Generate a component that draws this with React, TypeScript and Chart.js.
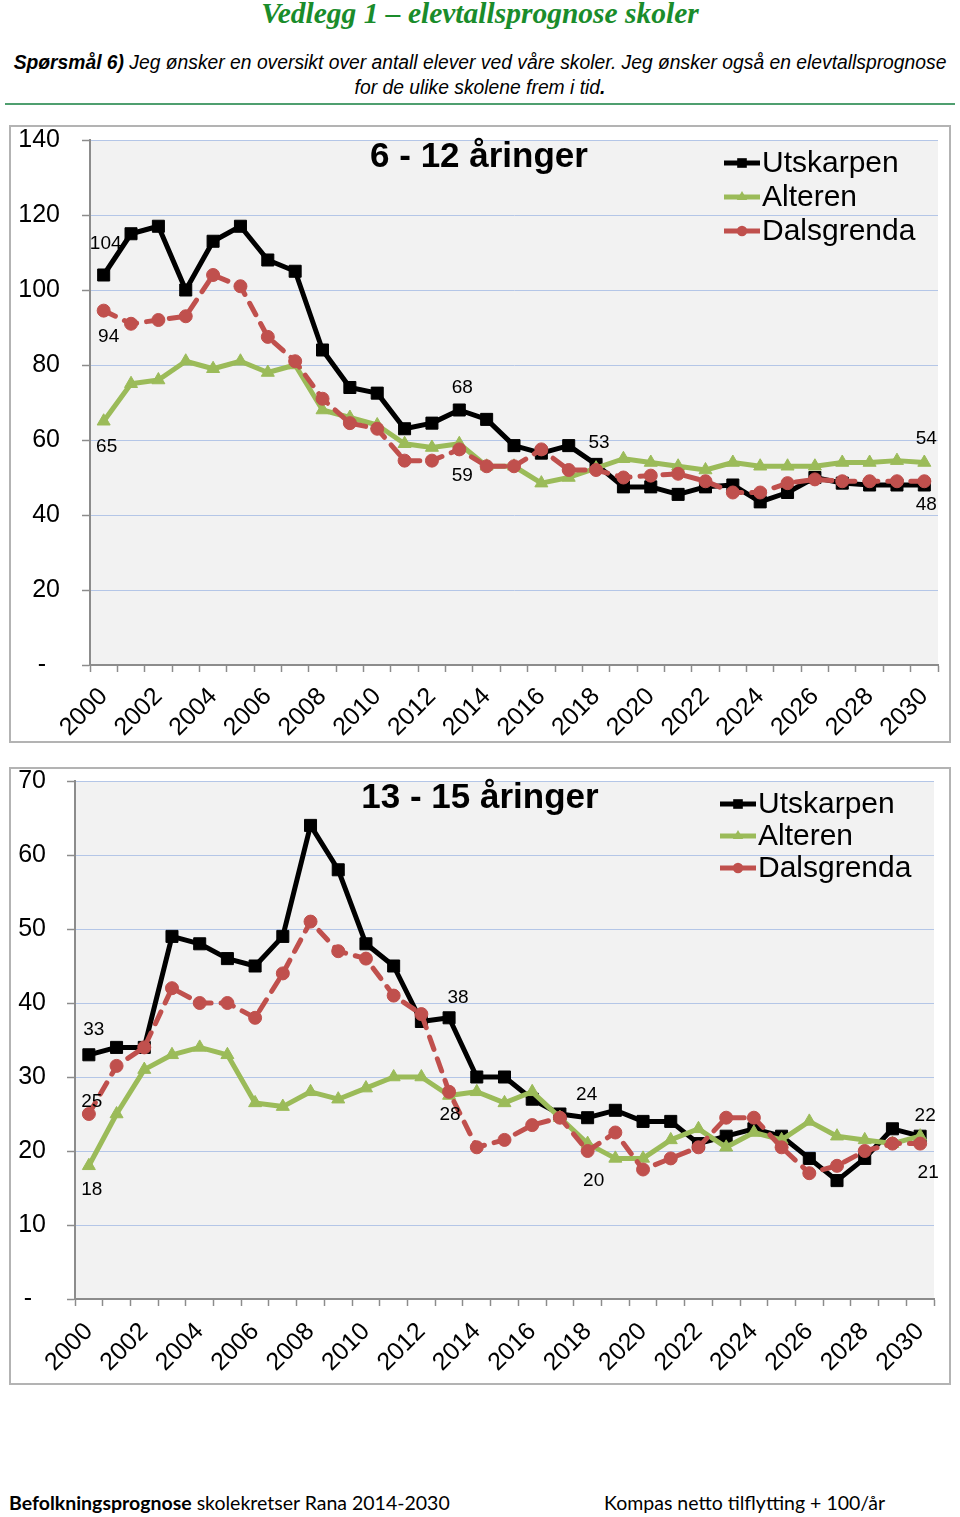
import React, { useEffect, useRef } from 'react';
import { Chart, registerables } from 'chart.js';

Chart.register(...registerables);

// ---------- data ----------
const YEARS = [
  '2000', '2001', '2002', '2003', '2004', '2005', '2006', '2007', '2008', '2009',
  '2010', '2011', '2012', '2013', '2014', '2015', '2016', '2017', '2018', '2019',
  '2020', '2021', '2022', '2023', '2024', '2025', '2026', '2027', '2028', '2029', '2030',
];

const SERIES_NAMES = ['Utskarpen', 'Alteren', 'Dalsgrenda'];

// 6 - 12 åringer
const UTSKARPEN_6_12 = [104, 115, 117, 100, 113, 117, 108, 105, 84, 74, 72.5, 63, 64.5, 68, 65.5, 58.5, 56.5, 58.5, 53.5, 47.5, 47.5, 45.5, 47.5, 48, 43.5, 46, 50, 48.5, 48, 48, 48];
const ALTEREN_6_12 = [65, 75, 76, 81, 79, 81, 78, 80, 68, 66, 64, 59, 58, 59, 53, 53, 48.5, 50, 52.5, 55, 54, 53, 52, 54, 53, 53, 53, 54, 54, 54.5, 54];
const DALSGRENDA_6_12 = [94.5, 91, 92, 93, 104, 101, 87.5, 81, 71, 64.5, 63, 54.5, 54.5, 57.5, 53, 53, 57.5, 52, 52, 50, 50.5, 51, 49, 46, 46, 48.5, 49.5, 49, 49, 49, 49];

// 13 - 15 åringer
const UTSKARPEN_13_15 = [33, 34, 34, 49, 48, 46, 45, 49, 64, 58, 48, 45, 37.5, 38, 30, 30, 27, 25, 24.5, 25.5, 24, 24, 21, 22, 23, 22, 19, 16, 19, 23, 22];
const ALTEREN_13_15 = [18, 25, 31, 33, 34, 33, 26.5, 26, 28, 27, 28.5, 30, 30, 27.5, 28, 26.5, 28, 24.5, 21, 19, 19, 21.5, 23, 20.5, 22.5, 21.5, 24, 22, 21.5, 21, 22];
const DALSGRENDA_13_15 = [25, 31.5, 34, 42, 40, 40, 38, 44, 51, 47, 46, 41, 38.5, 28, 20.5, 21.5, 23.5, 24.5, 20, 22.5, 17.5, 19, 20.5, 24.5, 24.5, 20.5, 17, 18, 20, 21, 21];

// data labels: [series index, year index, label text]
const LABELS_6_12: [number, number, string][] = [
  [0, 0, '104'], [2, 0, '94'], [1, 0, '65'], [0, 13, '68'], [1, 13, '59'],
  [0, 18, '53'], [1, 30, '54'], [0, 30, '48'],
];
const LABELS_13_15: [number, number, string][] = [
  [0, 0, '33'], [2, 0, '25'], [1, 0, '18'], [0, 13, '38'], [2, 13, '28'],
  [0, 18, '24'], [2, 18, '20'], [0, 30, '22'], [2, 30, '21'],
];

// ---------- styles ----------
const COLORS = ['#000000', '#9bbb59', '#c0504d'];
const POINT_STYLES = ['rect', 'triangle', 'circle'];
const POINT_RADII = [8.5, 7.5, 6.5];
const FONT = '"Liberation Sans", Arial, Helvetica, sans-serif';

// label offsets (pixels) for each data label, same order as above
const OFFSETS_6_12 = [[2, -31], [5, 26], [3, 26], [3, -22], [3, 32], [3, -22], [2, -24], [2, 20]];
const OFFSETS_13_15 = [[5, -25], [3, -12], [3, 24], [9, -20], [1, 23], [-1, -23], [6, 30], [5, -20], [8, 29]];

type Spec = {
  title: string;
  data: number[][];
  yMax: number;
  yStep: number;
  yWidth: number;
  xHeight: number;
  xPad: number;
  padTop: number;
  padRight: number;
  yPad: number;
  labels: [number, number, string][];
  offsets: number[][];
  titlePos: [number, number];
  legendX: number;
  legendY: number;
  legendGap: number;
};

function drawMarker(ctx: CanvasRenderingContext2D, style: string, x: number, y: number, r: number) {
  ctx.beginPath();
  if (style === 'rect') {
    const s = r * Math.SQRT1_2;
    ctx.rect(x - s, y - s, 2 * s, 2 * s);
  } else if (style === 'triangle') {
    let a = 0;
    ctx.moveTo(x + Math.sin(a) * r, y - Math.cos(a) * r);
    a += (2 * Math.PI) / 3;
    ctx.lineTo(x + Math.sin(a) * r, y - Math.cos(a) * r);
    a += (2 * Math.PI) / 3;
    ctx.lineTo(x + Math.sin(a) * r, y - Math.cos(a) * r);
    ctx.closePath();
  } else {
    ctx.arc(x, y, r, 0, Math.PI * 2);
  }
  ctx.fill();
}

function buildConfig(spec: Spec): any {
  const bgPlugin = {
    id: 'plotBg',
    beforeDraw(chart: any) {
      const { ctx, chartArea: a } = chart;
      ctx.save();
      ctx.fillStyle = '#f2f2f2';
      ctx.fillRect(a.left, a.top, a.right - a.left, a.bottom - a.top);
      ctx.restore();
    },
  };
  const overlayPlugin = {
    id: 'overlay',
    afterDatasetsDraw(chart: any) {
      const ctx: CanvasRenderingContext2D = chart.ctx;
      ctx.save();
      // title
      ctx.fillStyle = '#000';
      ctx.font = `bold 35px ${FONT}`;
      ctx.textAlign = 'center';
      ctx.textBaseline = 'middle';
      ctx.fillText(spec.title, spec.titlePos[0], spec.titlePos[1]);
      // legend
      ctx.font = `30px ${FONT}`;
      ctx.textAlign = 'left';
      SERIES_NAMES.forEach((name, i) => {
        const y = spec.legendY + i * spec.legendGap;
        ctx.strokeStyle = COLORS[i];
        ctx.fillStyle = COLORS[i];
        ctx.lineWidth = 5;
        ctx.setLineDash([]);
        ctx.beginPath();
        ctx.moveTo(spec.legendX, y);
        ctx.lineTo(spec.legendX + 36, y);
        ctx.stroke();
        drawMarker(ctx, POINT_STYLES[i], spec.legendX + 18, y, POINT_RADII[i] * 0.8);
        ctx.fillStyle = '#000';
        ctx.fillText(name, spec.legendX + 38, y + 1);
      });
      // data labels
      ctx.font = `19px ${FONT}`;
      ctx.textAlign = 'center';
      ctx.fillStyle = '#000';
      spec.labels.forEach(([ds, idx, text], k) => {
        const pt = chart.getDatasetMeta(ds).data[idx];
        const off = spec.offsets[k];
        ctx.fillText(text, pt.x + off[0], pt.y + off[1]);
      });
      ctx.restore();
    },
  };

  return {
    type: 'line',
    data: {
      labels: YEARS,
      datasets: spec.data.map((d, i) => ({
        label: SERIES_NAMES[i],
        data: d,
        borderColor: COLORS[i],
        backgroundColor: COLORS[i],
        pointBackgroundColor: COLORS[i],
        pointBorderColor: COLORS[i],
        pointBorderWidth: 1,
        pointStyle: POINT_STYLES[i],
        pointRadius: POINT_RADII[i],
        borderWidth: 5,
        borderDash: i === 2 ? [13, 10] : [],
        borderCapStyle: i === 2 ? 'round' : 'butt',
        borderJoinStyle: 'round',
        tension: 0,
        fill: false,
        order: 2 - i,
      })),
    },
    options: {
      responsive: false,
      animation: false,
      devicePixelRatio: 1,
      layout: { padding: { top: spec.padTop, right: spec.padRight, left: 0, bottom: 0 } },
      plugins: { legend: { display: false }, tooltip: { enabled: false }, title: { display: false } },
      events: [],
      scales: {
        x: {
          type: 'category',
          offset: true,
          afterFit(scale: any) {
            scale.height = spec.xHeight;
            scale.paddingLeft = 0;
            scale.paddingRight = 0;
          },
          grid: {
            offset: true,
            drawOnChartArea: false,
            drawTicks: true,
            tickLength: 7,
            tickColor: '#8c8c8c',
            tickWidth: 1.5,
          },
          border: { display: true, color: '#8c8c8c', width: 2 },
          ticks: {
            autoSkip: false,
            maxRotation: 45,
            minRotation: 45,
            padding: spec.xPad,
            color: '#000',
            font: { family: FONT, size: 25 },
            callback(this: any, val: any, index: number) {
              return index % 2 === 0 ? this.getLabelForValue(val) : '';
            },
          },
        },
        y: {
          min: 0,
          max: spec.yMax,
          afterFit(scale: any) {
            scale.width = spec.yWidth;
            scale.paddingTop = 0;
            scale.paddingBottom = 0;
          },
          grid: {
            color: '#b4c6e7',
            lineWidth: 1,
            borderDash: [3, 2],
            drawTicks: true,
            tickLength: 8,
            tickColor: '#8c8c8c',
            tickWidth: 1.5,
            tickBorderDash: [],
          },
          border: { display: true, color: '#8c8c8c', width: 2 },
          ticks: {
            stepSize: spec.yStep,
            padding: spec.yPad,
            color: '#000',
            font: { family: FONT, size: 25 },
            callback(val: any) { return val === 0 ? '-  ' : String(val); },
          },
        },
      },
    },
    plugins: [bgPlugin, overlayPlugin],
  };
}

const SPEC_6_12: Spec = {
  title: '6 - 12 åringer',
  data: [UTSKARPEN_6_12, ALTEREN_6_12, DALSGRENDA_6_12],
  yMax: 140,
  yStep: 20,
  yWidth: 79,
  xHeight: 76,
  xPad: 10,
  padTop: 13,
  padRight: 11,
  yPad: 22,
  labels: LABELS_6_12,
  offsets: OFFSETS_6_12,
  titlePos: [468, 30],
  legendX: 713,
  legendY: 36,
  legendGap: 34,
};

const SPEC_13_15: Spec = {
  title: '13 - 15 åringer',
  data: [UTSKARPEN_13_15, ALTEREN_13_15, DALSGRENDA_13_15],
  yMax: 70,
  yStep: 10,
  yWidth: 64,
  xHeight: 84,
  xPad: 11,
  padTop: 12,
  padRight: 15,
  yPad: 21,
  labels: LABELS_13_15,
  offsets: OFFSETS_13_15,
  titlePos: [469, 29],
  legendX: 709,
  legendY: 35,
  legendGap: 32,
};

function ChartBox({ left, top, spec }: { left: number; top: number; spec: Spec }) {
  const ref = useRef<HTMLCanvasElement>(null);
  useEffect(() => {
    const chart = new Chart(ref.current as HTMLCanvasElement, buildConfig(spec));
    return () => chart.destroy();
  }, [spec]);
  return (
    <div
      style={{
        position: 'absolute',
        left,
        top,
        width: 942,
        height: 618,
        border: '2px solid #b3b3b3',
        boxSizing: 'border-box',
        background: '#fff',
      }}
    >
      <canvas ref={ref} width={938} height={614} style={{ display: 'block', width: 938, height: 614 }} />
    </div>
  );
}

export default function App() {
  return (
    <div style={{ position: 'absolute', left: 0, top: 0, width: 960, height: 1517, background: '#fff', overflow: 'hidden' }}>
      <div
        style={{
          position: 'absolute', left: 0, top: -5, width: 960, textAlign: 'center',
          fontFamily: '"Liberation Serif", "DejaVu Serif", serif', fontWeight: 'bold', fontStyle: 'italic',
          fontSize: 29.5, color: '#1a8c2b', lineHeight: '36px', whiteSpace: 'nowrap',
        }}
      >
        Vedlegg 1 – elevtallsprognose skoler
      </div>
      <div
        style={{
          position: 'absolute', left: 0, top: 50, width: 960, textAlign: 'center',
          fontFamily: FONT, fontStyle: 'italic', fontSize: 19.3, lineHeight: '25px', color: '#000',
          whiteSpace: 'nowrap',
        }}
      >
        <div><b>Spørsmål 6)</b> Jeg ønsker en oversikt over antall elever ved våre skoler. Jeg ønsker også en elevtallsprognose</div>
        <div>for de ulike skolene frem i tid<b>.</b></div>
      </div>
      <div style={{ position: 'absolute', left: 5, top: 103, width: 950, height: 2, background: '#4f9f6f' }} />
      <ChartBox left={9} top={125} spec={SPEC_6_12} />
      <ChartBox left={9} top={767} spec={SPEC_13_15} />
      <div
        style={{
          position: 'absolute', left: 9, top: 1490, fontFamily: 'Lato, "Open Sans", sans-serif', fontSize: 19.5,
          lineHeight: '26px', color: '#000', whiteSpace: 'nowrap',
        }}
      >
        <b>Befolkningsprognose</b> skolekretser Rana 2014-2030
      </div>
      <div
        style={{
          position: 'absolute', left: 604, top: 1490, fontFamily: 'Lato, "Open Sans", sans-serif', fontSize: 19.5,
          lineHeight: '26px', color: '#000', whiteSpace: 'nowrap',
        }}
      >
        Kompas netto tilflytting + 100/år
      </div>
    </div>
  );
}
